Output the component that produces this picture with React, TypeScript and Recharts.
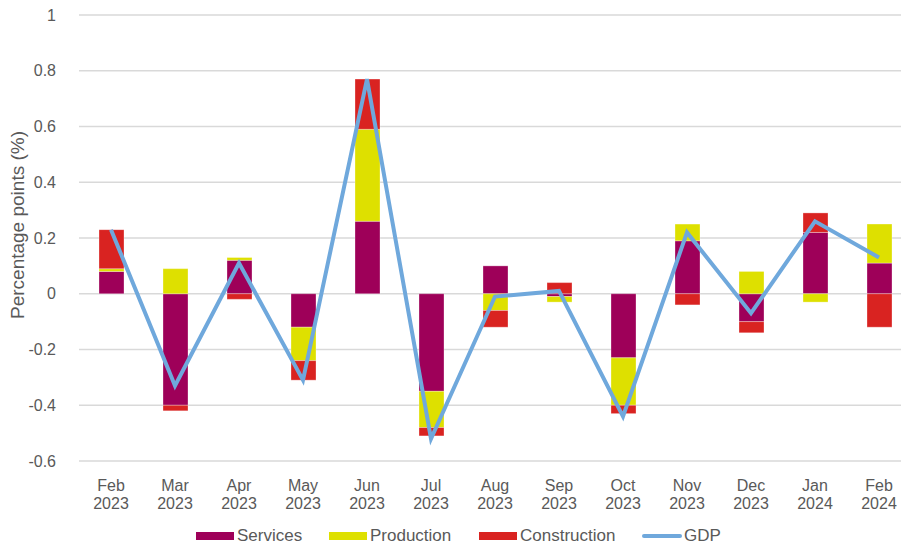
import React from 'react';
import { ComposedChart, Bar, Line, XAxis, YAxis, CartesianGrid } from 'recharts';

const months = ['Feb', 'Mar', 'Apr', 'May', 'Jun', 'Jul', 'Aug', 'Sep', 'Oct', 'Nov', 'Dec', 'Jan', 'Feb'];
const years = ['2023', '2023', '2023', '2023', '2023', '2023', '2023', '2023', '2023', '2023', '2023', '2024', '2024'];
const services = [0.08, -0.40, 0.12, -0.12, 0.26, -0.35, 0.10, -0.01, -0.23, 0.19, -0.10, 0.22, 0.11];
const production = [0.01, 0.09, 0.01, -0.12, 0.33, -0.13, -0.06, -0.02, -0.17, 0.06, 0.08, -0.03, 0.14];
const construction = [0.14, -0.02, -0.02, -0.07, 0.18, -0.03, -0.06, 0.04, -0.03, -0.04, -0.04, 0.07, -0.12];
const gdp = [0.23, -0.33, 0.11, -0.31, 0.77, -0.52, -0.01, 0.01, -0.44, 0.22, -0.07, 0.26, 0.13];
const yTicks = [-0.6, -0.4, -0.2, 0, 0.2, 0.4, 0.6, 0.8, 1];

const COLORS = {
  services: '#9E0059',
  production: '#DEE000',
  construction: '#D92321',
  gdp: '#6FA8DC',
};

const FONT = '"Liberation Sans", Arial, sans-serif';
const TEXT = '#595959';

const data = months.map((m, i) => ({
  key: `${m} ${years[i]}`,
  services: services[i],
  production: production[i],
  construction: construction[i],
  gdp: gdp[i],
}));

const MonthTick = (props: any) => {
  const { x, y, payload } = props;
  const [m, yr] = String(payload.value).split(' ');
  return (
    <g transform={`translate(${x},${y})`}>
      <text textAnchor="middle" fill={TEXT} fontSize={16} fontFamily={FONT}>
        <tspan x={0} dy={22}>{m}</tspan>
        <tspan x={0} dy={18}>{yr}</tspan>
      </text>
    </g>
  );
};

const legendItems = [
  { name: 'Services', color: COLORS.services, type: 'rect', x: 196 },
  { name: 'Production', color: COLORS.production, type: 'rect', x: 329 },
  { name: 'Construction', color: COLORS.construction, type: 'rect', x: 479 },
  { name: 'GDP', color: COLORS.gdp, type: 'line', x: 642 },
];

export default function App() {
  return (
    <div style={{ position: 'absolute', left: 0, top: 0, width: 901, height: 546, overflow: 'hidden', background: '#fff' }}>
      <ComposedChart
        width={912}
        height={546}
        data={data}
        stackOffset="sign"
        margin={{ top: 15, right: 1, left: 0, bottom: 0 }}
      >
        <CartesianGrid vertical={false} stroke="#d9d9d9" strokeWidth={1.3} />
        <XAxis
          dataKey="key"
          axisLine={false}
          tickLine={false}
          interval={0}
          height={85}
          tick={<MonthTick />}
        />
        <YAxis
          width={79}
          domain={[-0.6, 1]}
          ticks={yTicks}
          axisLine={false}
          tickLine={false}
          tick={{ fill: TEXT, fontSize: 16, fontFamily: FONT }}
          tickMargin={17}
          tickFormatter={(v: number) => String(Math.round(v * 10) / 10)}
        />
        <Bar dataKey="services" stackId="a" fill={COLORS.services} barSize={25} stroke="#ffffff" strokeWidth={0.5} strokeOpacity={0.6} isAnimationActive={false} />
        <Bar dataKey="production" stackId="a" fill={COLORS.production} barSize={25} stroke="#ffffff" strokeWidth={0.5} strokeOpacity={0.6} isAnimationActive={false} />
        <Bar dataKey="construction" stackId="a" fill={COLORS.construction} barSize={25} stroke="#ffffff" strokeWidth={0.5} strokeOpacity={0.6} isAnimationActive={false} />
        <Line dataKey="gdp" type="linear" stroke={COLORS.gdp} strokeWidth={4} dot={false} activeDot={false} isAnimationActive={false} />
      </ComposedChart>
      <div
        style={{
          position: 'absolute',
          left: 18,
          top: 225,
          transform: 'translate(-50%, -50%) rotate(-90deg)',
          whiteSpace: 'nowrap',
          fontFamily: FONT,
          fontSize: 19,
          color: TEXT,
        }}
      >
        Percentage points (%)
      </div>
      {legendItems.map((it) => (
        <div key={it.name} style={{ position: 'absolute', left: it.x, top: 526, height: 20, display: 'flex', alignItems: 'center', fontFamily: FONT, fontSize: 17, color: TEXT }}>
          {it.type === 'rect' ? (
            <span style={{ display: 'inline-block', width: 38, height: 8, background: it.color, marginRight: 3 }} />
          ) : (
            <span style={{ display: 'inline-block', width: 40, height: 4, borderRadius: 2, background: it.color, marginRight: 2 }} />
          )}
          {it.name}
        </div>
      ))}
    </div>
  );
}
